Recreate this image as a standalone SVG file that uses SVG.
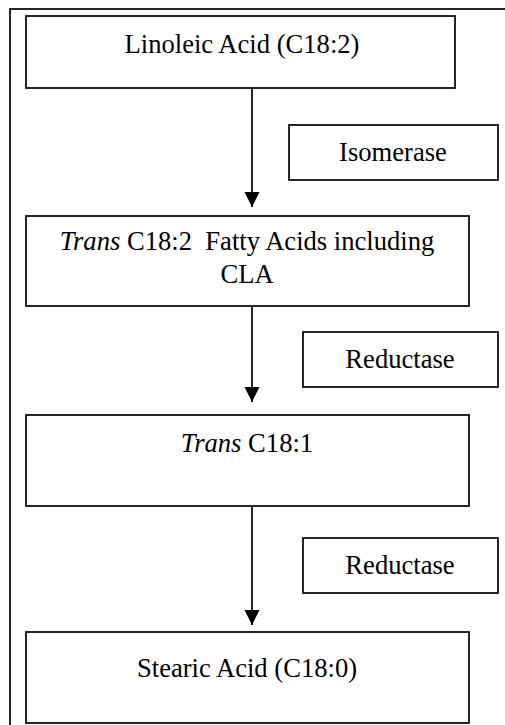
<svg xmlns="http://www.w3.org/2000/svg" width="505" height="725" viewBox="0 0 505 725">
<style>
.box{fill:#fff;stroke:#000;stroke-width:1.7}
.t{font-family:"Liberation Serif","Times New Roman",serif;font-size:26.6px;fill:#000;text-anchor:middle;white-space:pre}
.c{stroke:#000;stroke-width:1.7;fill:none}
</style>
<defs>
<marker id="ah" markerUnits="userSpaceOnUse" markerWidth="16" markerHeight="16" refX="15" refY="8" orient="auto">
<path d="M0,0.5 L15,8 L0,15.5 z" fill="#000"/>
</marker>
</defs>
<rect x="10" y="9" width="510" height="730" fill="#fff" stroke="#000" stroke-width="1.7"/>
<g id="connectors">
<line class="c" x1="252" y1="88" x2="252" y2="207" marker-end="url(#ah)"/>
<line class="c" x1="252" y1="306" x2="252" y2="402" marker-end="url(#ah)"/>
<line class="c" x1="252" y1="506" x2="252" y2="625" marker-end="url(#ah)"/>
</g>
<g id="linoleic">
<rect class="box" x="26" y="16" width="429" height="72"/>
<text class="t" x="242" y="53">Linoleic Acid (C18:2)</text>
</g>
<g id="isomerase">
<rect class="box" x="289" y="125" width="209" height="55"/>
<text class="t" x="393" y="161">Isomerase</text>
</g>
<g id="trans182">
<rect class="box" x="26" y="216" width="443" height="90"/>
<text class="t" x="247" y="250" xml:space="preserve"><tspan font-style="italic">Trans</tspan> C18:2  Fatty Acids including</text>
<text class="t" x="247" y="283">CLA</text>
</g>
<g id="reductase1">
<rect class="box" x="303" y="332" width="195" height="55"/>
<text class="t" x="400" y="368">Reductase</text>
</g>
<g id="trans181">
<rect class="box" x="26" y="415" width="443" height="91"/>
<text class="t" x="247" y="452"><tspan font-style="italic">Trans</tspan> C18:1</text>
</g>
<g id="reductase2">
<rect class="box" x="303" y="538" width="195" height="55"/>
<text class="t" x="400" y="574">Reductase</text>
</g>
<g id="stearic">
<rect class="box" x="26" y="632" width="443" height="91"/>
<text class="t" x="247" y="677">Stearic Acid (C18:0)</text>
</g>
</svg>
